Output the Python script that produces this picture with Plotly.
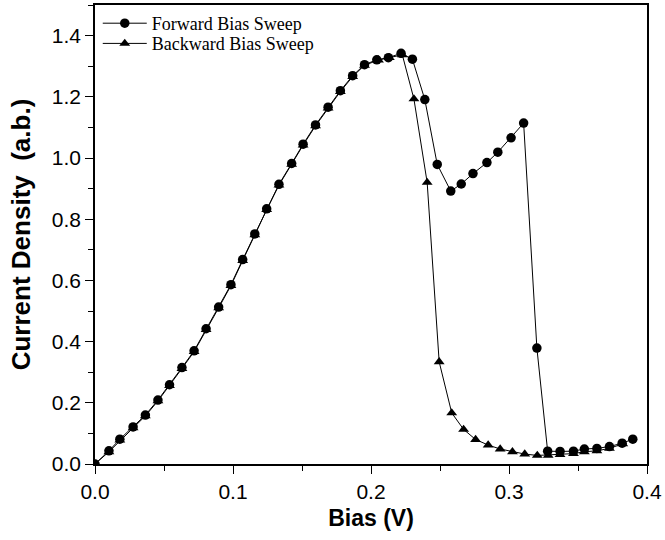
import plotly.graph_objects as go

# Forward sweep: bias (V) and current density (a.b.)
fwd_bias = [0.0, 0.0101, 0.018, 0.0276, 0.0365, 0.0456, 0.054, 0.063, 0.0718, 0.0805,
            0.0896, 0.0985, 0.107, 0.1158, 0.1244, 0.1333, 0.1425, 0.1508, 0.1598, 0.1689,
            0.1778, 0.1867, 0.1953, 0.2042, 0.2126, 0.2218, 0.2300, 0.2390, 0.2480, 0.2578,
            0.2654, 0.2739, 0.2840, 0.2919, 0.3015, 0.3106, 0.3202, 0.3280, 0.3370, 0.3467,
            0.3546, 0.3637, 0.3728, 0.3820, 0.3897]
fwd_current = [0.0, 0.043, 0.081, 0.121, 0.160, 0.209, 0.259, 0.315, 0.370, 0.442,
               0.513, 0.586, 0.668, 0.752, 0.834, 0.914, 0.982, 1.045, 1.108, 1.166,
               1.220, 1.269, 1.305, 1.321, 1.328, 1.342, 1.323, 1.191, 0.979, 0.892,
               0.915, 0.949, 0.985, 1.019, 1.066, 1.114, 0.379, 0.042, 0.041, 0.042,
               0.049, 0.051, 0.057, 0.068, 0.081]

# Backward sweep, listed from high bias back to zero
bwd_bias = [0.3824, 0.3728, 0.3637, 0.3546, 0.3467, 0.3370, 0.3284, 0.3205, 0.3114, 0.3025,
            0.2936, 0.2849, 0.2758, 0.2671, 0.2585, 0.2494, 0.2407, 0.2311, 0.2227, 0.2133,
            0.2054, 0.1953, 0.1867, 0.1778, 0.1689, 0.1598, 0.1508, 0.1425, 0.1333, 0.1244,
            0.1158, 0.107, 0.0985, 0.0896, 0.0805, 0.0718, 0.063, 0.054, 0.0456, 0.0365,
            0.0276, 0.018, 0.0101, 0.0]
bwd_current = [0.066, 0.051, 0.043, 0.040, 0.034, 0.031, 0.028, 0.028, 0.0325, 0.040,
               0.049, 0.062, 0.080, 0.113, 0.167, 0.334, 0.920, 1.193, 1.337, 1.328,
               1.320, 1.303, 1.266, 1.217, 1.163, 1.105, 1.042, 0.979, 0.911, 0.831,
               0.749, 0.665, 0.583, 0.510, 0.439, 0.367, 0.312, 0.256, 0.206, 0.157,
               0.118, 0.078, 0.040, 0.0]

x_ticks = [0.0, 0.1, 0.2, 0.3, 0.4]
y_ticks = [0.0, 0.2, 0.4, 0.6, 0.8, 1.0, 1.2, 1.4]

fig = go.Figure()
fig.add_trace(go.Scatter(
    x=fwd_bias, y=fwd_current, mode="lines+markers", name="Forward Bias Sweep",
    line=dict(color="black", width=1),
    marker=dict(symbol="circle", size=9.5, color="black"),
    legend="legend",
))
fig.add_trace(go.Scatter(
    x=bwd_bias, y=bwd_current, mode="lines+markers", name="Backward Bias Sweep",
    line=dict(color="black", width=1),
    marker=dict(symbol="triangle-up", size=9.5, color="black"),
    legend="legend2",
))

axis_common = dict(
    showgrid=False, zeroline=False, showline=True, linecolor="black", linewidth=1.6,
    mirror=True, ticks="outside", ticklen=8, tickwidth=1.4, tickcolor="black",
    tickfont=dict(family="Liberation Sans, Arial, sans-serif", size=21, color="black"),
)

fig.update_xaxes(
    range=[0, 0.4], tickvals=x_ticks, ticktext=[f"{v:.1f}" for v in x_ticks],
    title=dict(text="<b>Bias (V)</b>", standoff=8,
               font=dict(family="Liberation Sans, Arial, sans-serif", size=23, color="black")),
    minor=dict(dtick=0.05, ticks="outside", ticklen=5, tickwidth=1.2, tickcolor="black"),
    **axis_common,
)
fig.update_yaxes(
    range=[0, 1.5], tickvals=y_ticks, ticktext=[f"{v:.1f}" for v in y_ticks],
    title=dict(text="<b>Current Density  (a.b.)</b>", standoff=14,
               font=dict(family="Liberation Sans, Arial, sans-serif", size=26, color="black")),
    minor=dict(dtick=0.1, ticks="outside", ticklen=5, tickwidth=1.2, tickcolor="black"),
    **axis_common,
)

legend_style = dict(
    xanchor="left", yanchor="top",
    bgcolor="rgba(0,0,0,0)", borderwidth=0, itemwidth=44,
    font=dict(family="Liberation Serif, Times New Roman, serif", size=18, color="black"),
)

fig.update_layout(
    width=665, height=540,
    margin=dict(l=95, r=15, t=3, b=76),
    paper_bgcolor="white", plot_bgcolor="white",
    showlegend=True,
    legend=dict(x=0.005, y=1.0, **legend_style),
    legend2=dict(x=0.005, y=0.956, **legend_style),
)

fig.write_html("out.html")
